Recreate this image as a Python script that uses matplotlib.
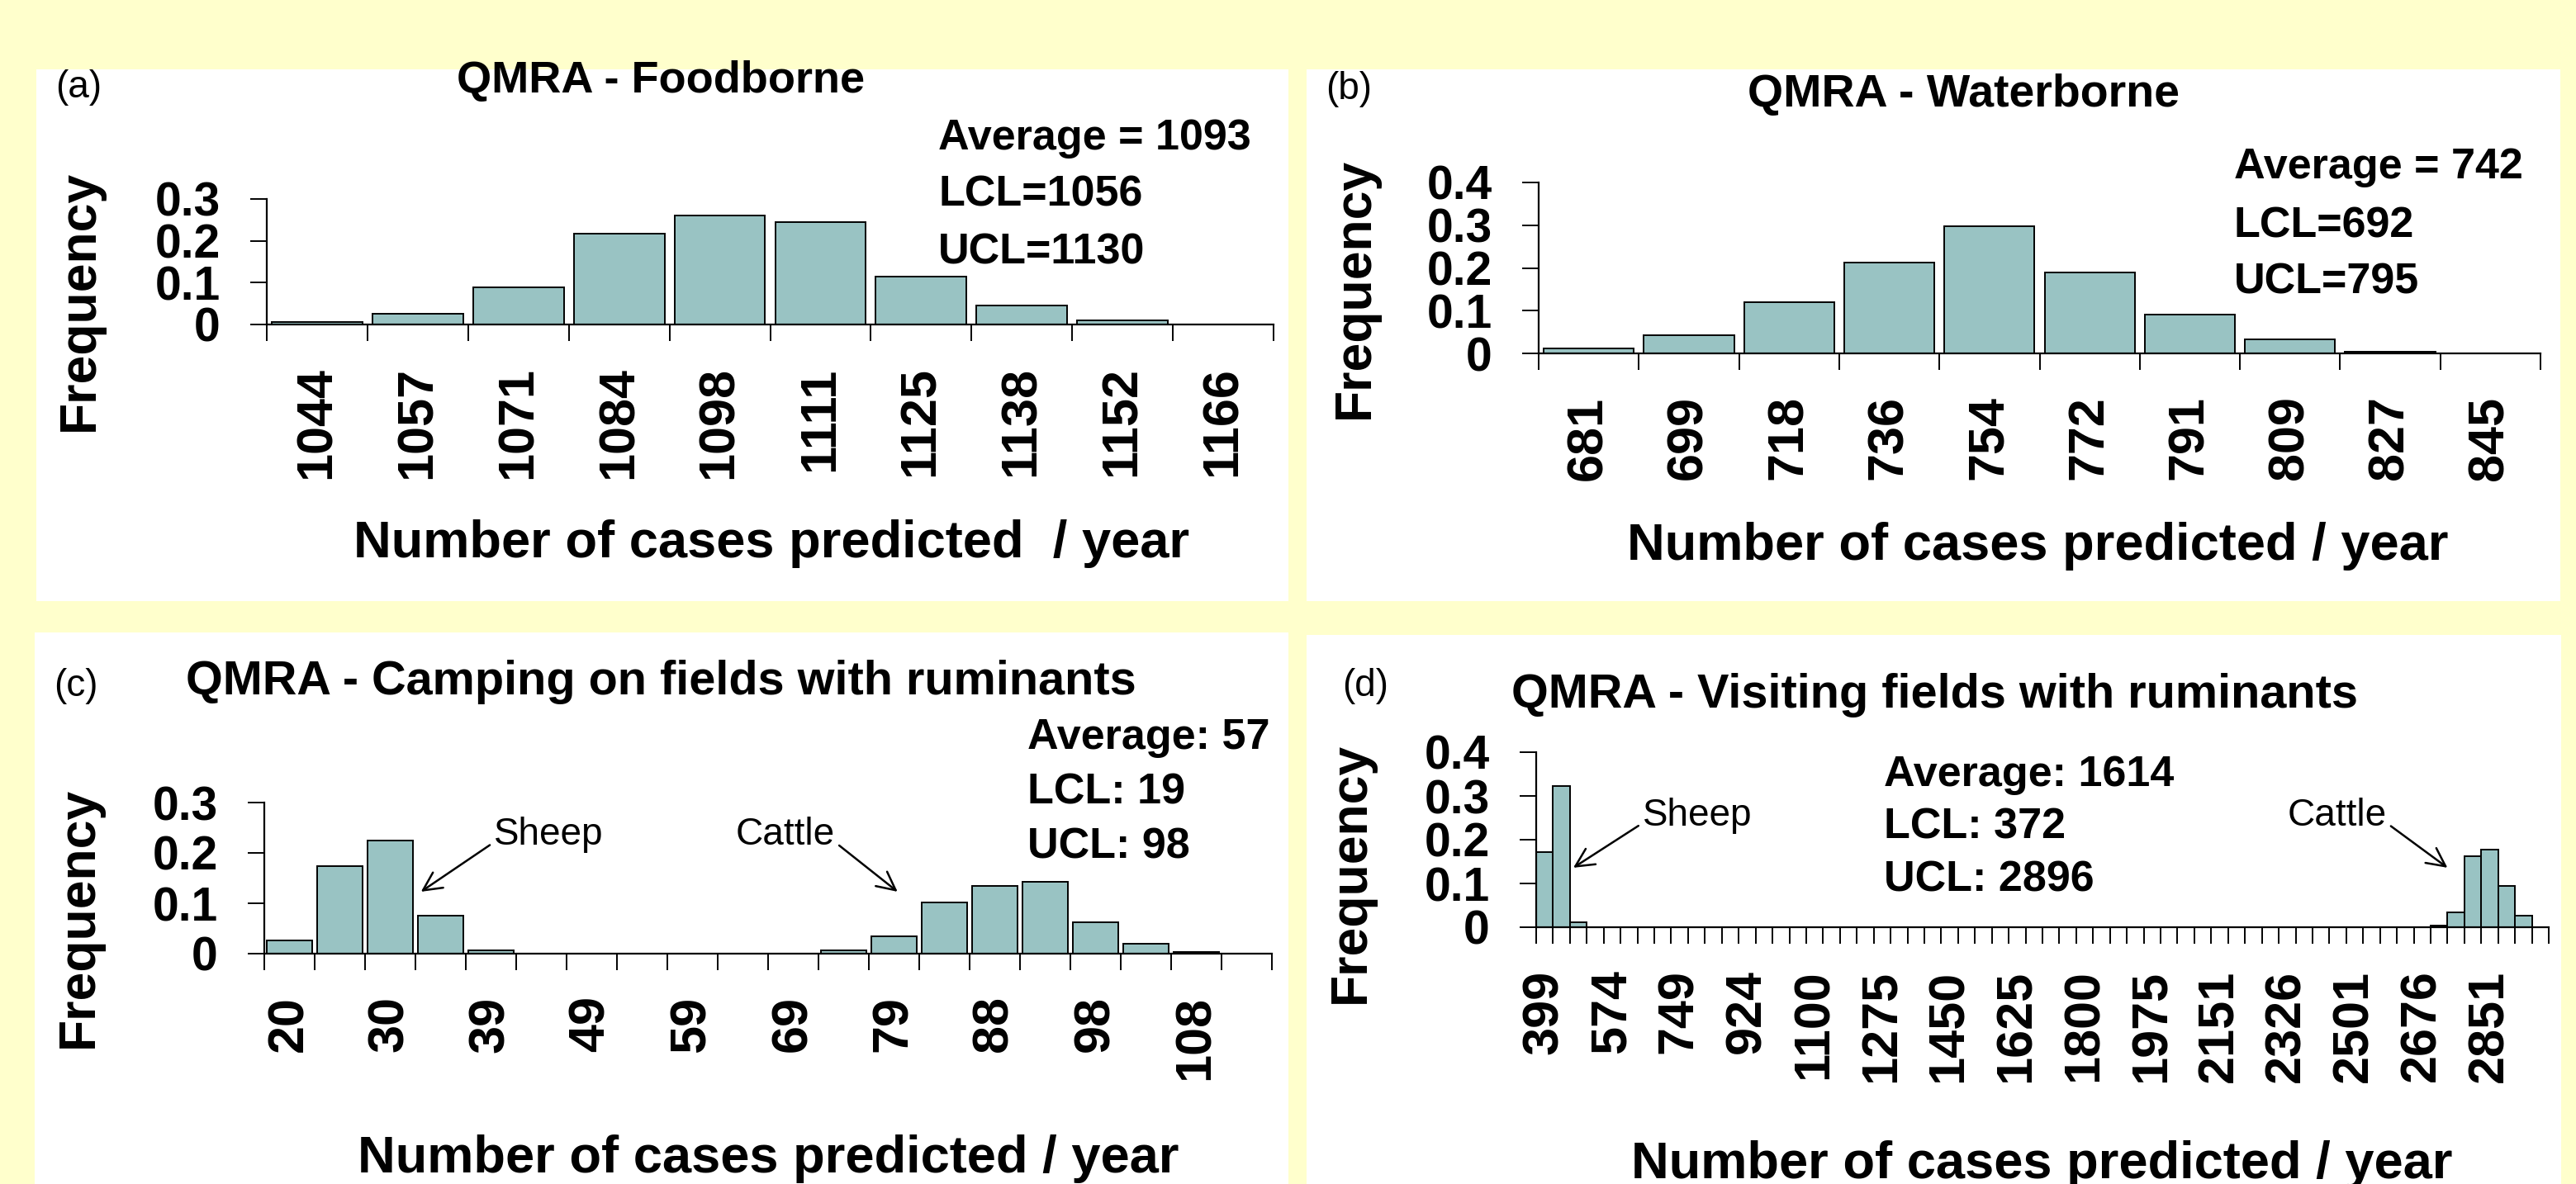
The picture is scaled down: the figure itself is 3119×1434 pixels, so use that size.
import matplotlib.pyplot as plt
from matplotlib.patches import Rectangle
import numpy as np

plt.rcParams['font.family'] = ['Liberation Sans', 'DejaVu Sans']

# ---- data ----
a_labels = ['1044', '1057', '1071', '1084', '1098', '1111', '1125', '1138', '1152', '1166']
a_freq = [0.005, 0.025, 0.089, 0.217, 0.260, 0.245, 0.115, 0.045, 0.010, 0.0]

b_labels = ['681', '699', '718', '736', '754', '772', '791', '809', '827', '845']
b_freq = [0.012, 0.043, 0.120, 0.213, 0.297, 0.190, 0.090, 0.032, 0.004, 0.0]

# camping: 20 bins, every second bin labelled
c_labels = ['20', '30', '39', '49', '59', '69', '79', '88', '98', '108']
c_freq = [0.026, 0.173, 0.225, 0.075, 0.0065,
          0.0, 0.0, 0.0, 0.0, 0.0, 0.0,
          0.0065, 0.034, 0.101, 0.134, 0.143, 0.063, 0.020, 0.004, 0.0]

# visiting: 60 bins, every fourth bin labelled
d_labels = ['399', '574', '749', '924', '1100', '1275', '1450', '1625', '1800',
            '1975', '2151', '2326', '2501', '2676', '2851']
d_freq = [0.171, 0.322, 0.011,
          0.0, 0.0, 0.0, 0.0, 0.0, 0.0, 0.0, 0.0, 0.0, 0.0,
          0.0, 0.0, 0.0, 0.0, 0.0, 0.0, 0.0, 0.0, 0.0, 0.0,
          0.0, 0.0, 0.0, 0.0, 0.0, 0.0, 0.0, 0.0, 0.0, 0.0,
          0.0, 0.0, 0.0, 0.0, 0.0, 0.0, 0.0, 0.0, 0.0, 0.0,
          0.0, 0.0, 0.0, 0.0, 0.0, 0.0, 0.0, 0.0, 0.0, 0.0,
          0.003, 0.034, 0.163, 0.177, 0.095, 0.027, 0.0]

BAR = '#99C3C3'
BG = '#FFFFCC'
W, H = 3119, 1434

fig = plt.figure(figsize=(W / 100, H / 100), dpi=100, facecolor=BG)


def fx(x):
    return x / W


def fy(y):
    return 1 - y / H


def panel(x0, y0, x1, y1):
    fig.add_artist(Rectangle((fx(x0), fy(y1)), (x1 - x0) / W, (y1 - y0) / H,
                             transform=fig.transFigure, facecolor='white',
                             edgecolor='none', zorder=-5))


def hist_axes(left, right, y0, ytop, freq, labels, step, ymax, width):
    ax = fig.add_axes([fx(left), fy(y0), (right - left) / W, (y0 - ytop) / H])
    ax.set_facecolor('none')
    n = len(freq)
    pos = np.arange(n)
    ax.bar(pos, freq, width=width, color=BAR, edgecolor='black', linewidth=1.4)
    ax.set_xlim(-0.5, n - 0.5)
    ax.set_ylim(0, ymax)
    for s in ['top', 'right']:
        ax.spines[s].set_visible(False)
    for s in ['left', 'bottom']:
        ax.spines[s].set_linewidth(1.6)
    # tick marks at the bin edges, labels at bin centres
    ax.set_xticks(np.arange(n + 1) - 0.5)
    ax.set_xticklabels([])
    ax.set_xticks(pos[::step][:len(labels)], minor=True)
    ax.set_xticklabels(labels, minor=True, rotation=90, fontsize=44, fontweight='bold')
    ax.tick_params(axis='x', which='major', length=14.4, width=1.4, direction='out')
    ax.tick_params(axis='x', which='minor', length=0, pad=37)
    yt = np.round(np.arange(0, ymax + 0.001, 0.1), 1)
    ax.set_yticks(yt)
    ax.set_yticklabels(['0' if v == 0 else f'{v:.1f}' for v in yt],
                       fontsize=41, fontweight='bold')
    ax.tick_params(axis='y', length=14.4, width=1.4, pad=26)
    return ax


def txt(x, y, s, size, weight='bold', ha='left', rot=0, va='baseline'):
    fig.text(fx(x), fy(y), s, ha=ha, va=va, fontsize=size, fontweight=weight,
             rotation=rot)


# white panels
panel(44, 84, 1560, 728)
panel(1582, 84, 3100, 728)
panel(42, 766, 1560, 1434)
panel(1582, 769, 3101, 1434)

# (a) foodborne
hist_axes(323, 1542, 393, 241, a_freq, a_labels, 1, 0.3, 0.9)
txt(67, 118, '(a)', 33, 'normal')
txt(800, 112, 'QMRA - Foodborne', 39, ha='center')
txt(1136, 181, 'Average = 1093', 37.5)
txt(1136, 250, 'LCL=1056', 37.5)
txt(1136, 319, 'UCL=1130', 37.5)
txt(96, 364, 'Frequency', 45, rot=90, ha='center', va='center')
txt(934, 675, 'Number of cases predicted  / year', 45.5, ha='center')

# (b) waterborne
hist_axes(1863, 3076, 428, 221, b_freq, b_labels, 1, 0.4, 0.9)
txt(1605, 120, '(b)', 33, 'normal')
txt(2378, 129, 'QMRA - Waterborne', 40, ha='center')
txt(2705, 216, 'Average = 742', 37.5)
txt(2705, 287, 'LCL=692', 37.5)
txt(2705, 356, 'UCL=795', 37.5)
txt(1640, 349, 'Frequency', 45, rot=90, ha='center', va='center')
txt(2467, 678, 'Number of cases predicted / year', 45.5, ha='center')

# (c) camping
axc = hist_axes(320, 1540, 1155, 972, c_freq, c_labels, 2, 0.3, 0.9)
txt(65, 843, '(c)', 33, 'normal')
txt(800, 841, 'QMRA - Camping on fields with ruminants', 41.5, ha='center')
txt(1244, 907, 'Average: 57', 37.5)
txt(1244, 973, 'LCL: 19', 37.5)
txt(1244, 1039, 'UCL: 98', 37.5)
txt(95, 1111, 'Frequency', 45, rot=90, ha='center', va='center')
txt(930, 1420, 'Number of cases predicted / year', 45.5, ha='center')
arrow = dict(arrowstyle='->', color='black', lw=1.8, mutation_scale=40, shrinkA=2, shrinkB=0)
axc.annotate('Sheep', xy=(2.61, 0.123), xytext=(4.06, 0.216), fontsize=33,
             ha='left', va='baseline', arrowprops=dict(arrow, relpos=(0, 0.3)))
axc.annotate('Cattle', xy=(12.07, 0.123), xytext=(10.83, 0.216), fontsize=33,
             ha='right', va='baseline', arrowprops=dict(arrow, relpos=(1, 0.3)))

# (d) visiting
axd = hist_axes(1860, 3086, 1123, 911, d_freq, d_labels, 4, 0.4, 1.0)
txt(1625, 843, '(d)', 33, 'normal')
txt(2342, 857, 'QMRA - Visiting fields with ruminants', 41.5, ha='center')
txt(2281, 952, 'Average: 1614', 37.5)
txt(2281, 1016, 'LCL: 372', 37.5)
txt(2281, 1080, 'UCL: 2896', 37.5)
txt(1635, 1057, 'Frequency', 45, rot=90, ha='center', va='center')
txt(2472, 1427, 'Number of cases predicted / year', 45.5, ha='center')
axd.annotate('Sheep', xy=(1.70, 0.136), xytext=(5.81, 0.232), fontsize=33,
             ha='left', va='baseline', arrowprops=dict(arrow, relpos=(0, 0.3)))
axd.annotate('Cattle', xy=(53.5, 0.136), xytext=(49.9, 0.232), fontsize=33,
             ha='right', va='baseline', arrowprops=dict(arrow, relpos=(1, 0.3)))

fig.savefig('out.png', dpi=100, facecolor=fig.get_facecolor())
